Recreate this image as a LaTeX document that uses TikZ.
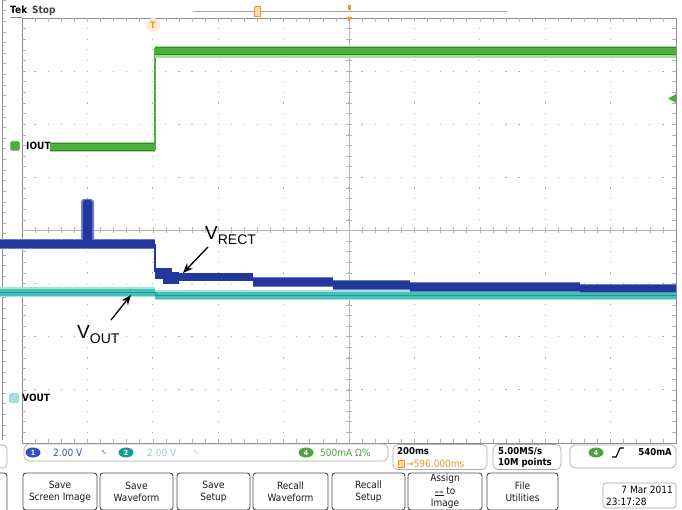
\documentclass[tikz,border=0pt]{standalone}
\usepackage{fontspec}
\setmainfont{Liberation Sans}
\newfontfamily\tekfont[FakeStretch=0.9]{DejaVu Sans}
\usetikzlibrary{arrows.meta,shapes.geometric}
\definecolor{gridc}{HTML}{B4B4B4}
\definecolor{framec}{HTML}{8C8C8C}
\definecolor{trgreen}{HTML}{4CB03C}
\definecolor{trgreendk}{HTML}{2E8626}
\definecolor{trgreenlt}{HTML}{A8DC9C}
\definecolor{trblue}{HTML}{22389C}
\definecolor{trbluelt}{HTML}{6A7CC4}
\definecolor{trcyan}{HTML}{44C2BA}
\definecolor{trcyandk}{HTML}{1F9A92}
\definecolor{trcyanlt}{HTML}{A8E0DC}
\definecolor{torange}{HTML}{EE9A2E}
\definecolor{statblue}{HTML}{2E54B4}
\definecolor{statcyan}{HTML}{94D2CE}
\definecolor{statgreen}{HTML}{4CA640}
\definecolor{btnframe}{HTML}{4A4A4A}
\begin{document}
\begin{tikzpicture}[x=1pt,y=-1pt,
  tk/.style={font=\tekfont\fontsize{10}{12}\selectfont, inner sep=0pt},
  tkb/.style={font=\tekfont\bfseries\fontsize{9.5}{12}\selectfont, inner sep=0pt},
  btn/.style={draw=btnframe, line width=0.9pt, rounded corners=3pt, fill=white,
    font=\tekfont\fontsize{10}{12}\selectfont, align=center, inner sep=0pt, text=black!90},
  statbox/.style={draw=gray!65, line width=0.7pt, rounded corners=5pt, inner sep=0pt},
  badge/.style={ellipse, inner sep=0pt, minimum width=15pt, minimum height=10pt,
    text=white, font=\tekfont\bfseries\fontsize{7}{7}\selectfont},
  tick/.style={draw=gridc, line width=0.6pt},
  annot/.style={inner sep=0pt, anchor=base west, font=\fontsize{19}{19}\selectfont},
  arr/.style={draw=black, line width=1.3pt, -{Stealth[length=10pt,width=8pt]}}
]
\useasboundingbox (0,0) rectangle (682,510);
\fill[white] (0,0) rectangle (682,510);
\begin{scope}
\clip (0,0) rectangle (682,510);
% left strip (neighbouring screen)
\draw[framec, line width=0.6pt] (2.5,0) -- (2.5,440);
\foreach \k in {0,...,41} {\draw[tick] (2.5,{\k*10.625}) -- ++(3,0);}
\draw[gray!65, line width=0.7pt, rounded corners=4pt] (-20,445) rectangle (7,468);
\draw[btnframe, line width=0.9pt, rounded corners=3pt] (-20,473) rectangle (7,520);

% graticule dots
\foreach \i in {1,...,9} {
  \pgfmathsetmacro\xx{22+65.4*\i}
  \foreach \k in {1,...,39} {\fill[gridc] (\xx-0.6,{18+\k*10.625-0.6}) rectangle ++(1.2,1.2);}
}
\foreach \j in {1,...,7} {
  \pgfmathsetmacro\yy{18+53.125*\j}
  \foreach \k in {1,...,49} {\fill[gridc] ({22+\k*13.08-0.6},\yy-0.6) rectangle ++(1.2,1.2);}
}
% centre lines with ticks
\draw[tick] (22,230.5) -- (676,230.5);
\draw[tick] (349,18) -- (349,443);
\foreach \k in {1,...,49} {\draw[tick] ({22+\k*13.08},227.5) -- ++(0,6);}
\foreach \k in {1,...,39} {\draw[tick] (346,{18+\k*10.625}) -- ++(6,0);}
% frame with ticks
\draw[framec, line width=0.7pt] (22,18) rectangle (676,443);
\draw[framec, line width=0.7pt] (10,17.5) -- (22,17.5);
\foreach \k in {1,...,49} {\draw[tick] ({22+\k*13.08},18) -- ++(0,4); \draw[tick] ({22+\k*13.08},443) -- ++(0,-4);}
\foreach \k in {1,...,39} {\draw[tick] (22,{18+\k*10.625}) -- ++(4,0); \draw[tick] (676,{18+\k*10.625}) -- ++(-4,0);}

% top record bar and markers
\draw[gray!70, line width=0.8pt] (193,11) -- (507,11);
\draw[torange, fill=torange!35, line width=0.6pt] (254,6) rectangle (260,16);
\fill[torange] (348,5) rectangle (351,10);
\fill[torange] (346,17) -- (352,17) -- (349,22) -- cycle;
\fill[torange!20] (153,25) circle (7);
\node[font=\tekfont\bfseries\fontsize{9}{9}\selectfont, text=torange, inner sep=0pt] (trig) at (153,25) {T};
\fill[trgreen] (676,94) -- (668,98.5) -- (676,103) -- cycle;

% Tek Stop
\node[font=\tekfont\bfseries\fontsize{10}{10}\selectfont, inner sep=0pt, anchor=base west] (tek) at (10,14) {Tek};
\node[font=\tekfont\bfseries\fontsize{10}{10}\selectfont, inner sep=0pt, anchor=base west, text=black!75] (stop) at (32,14) {Stop};

% channel labels
\node[draw=trgreendk, fill=trgreen, rounded corners=2pt, minimum width=9pt, minimum height=9pt, inner sep=0pt] (b4ch) at (15,146) {};
\node[font=\tekfont\bfseries\fontsize{10}{10}\selectfont, inner sep=0pt, anchor=west] (ioutl) at (26,146) {IOUT};
\node[draw=trcyan, fill=trcyanlt, rounded corners=2pt, minimum width=9pt, minimum height=9pt, inner sep=0pt] (b2ch) at (14,398) {};
\node[font=\tekfont\bfseries\fontsize{10}{10}\selectfont, inner sep=0pt, anchor=west] (voutl) at (22,398) {VOUT};

% --- cyan VOUT trace
\fill[trcyanlt] (0,287.5) rectangle (155,297.5);
\fill[trcyanlt] (155,290.5) rectangle (676,300.5);
\fill[trcyan] (0,289) rectangle (155,296);
\fill[trcyan] (155,292.5) rectangle (676,299);
\draw[trcyandk, line width=0.6pt] (0,292.5) -- (155,292.5) -- (155,295.5) -- (676,295.5);

% --- blue VRECT trace
\fill[trbluelt] (0,239) rectangle (155,249);
\fill[trbluelt, rounded corners=3pt] (81,199) rectangle (94,244);
\fill[trblue] (0,240) rectangle (155,248);
\fill[trblue, rounded corners=2.5pt] (83,200) rectangle (92,244);
\draw[trblue, line width=1.2pt] (155,244) -- (155,272);
\fill[trblue] (155,268) rectangle (172,279);
\fill[trblue] (163,272) rectangle (179,284);
\fill[trblue] (172,273) rectangle (253,281);
\fill[trbluelt] (253,277) rectangle (333,287);
\fill[trblue] (253,278) rectangle (333,286);
\fill[trbluelt] (333,280) rectangle (410,290);
\fill[trblue] (333,281) rectangle (410,289);
\fill[trbluelt] (410,282) rectangle (580,292);
\fill[trblue] (410,283) rectangle (580,291);
\fill[trbluelt] (580,284) rectangle (676,293);
\fill[trblue] (580,285) rectangle (676,292);

% --- green IOUT trace
\fill[trgreenlt] (50,142) rectangle (155,152);
\fill[trgreen] (50,143) rectangle (155,150);
\draw[trgreendk, line width=0.6pt] (50,143) -- (155,143) (50,150) -- (155,150);
\draw[trgreen, line width=1.4pt] (155,150) -- (155,48);
\fill[trgreenlt] (155,46) rectangle (676,58);
\fill[trgreen] (155,47) rectangle (676,54);
\draw[trgreendk, line width=0.6pt] (155,47) -- (676,47) (155,54) -- (676,54);
\end{scope}

% annotations
\node[annot] (vrect) at (205,240) {V\raisebox{-5pt}{\fontsize{14}{14}\selectfont RECT}};
\coordinate (vrtail) at (208,247);
\coordinate (vrtip) at (183,273);
\draw[arr] (vrtail) -- (vrtip);
\node[annot] (vout) at (77,338) {V\raisebox{-5pt}{\fontsize{14}{14}\selectfont OUT}};
\coordinate (votail) at (111,320);
\coordinate (votip) at (131,295);
\draw[arr] (votail) -- (votip);

% status bar
\node[statbox, minimum width=364pt, minimum height=17pt] (sb1) at (206,452.5) {};
\node[badge, fill=statblue] (c1) at (33,452.5) {1};
\node[tk, anchor=west, text=statblue] (c1v) at (53,452.5) {2.00 V};
\node[tk, anchor=west, text=statblue, font=\tekfont\fontsize{7}{7}\selectfont] (c1bw) at (101,452.5) {∿};
\node[badge, fill=trcyandk] (c2) at (126,452.5) {2};
\node[tk, anchor=west, text=statcyan] (c2v) at (147,452.5) {2.00 V};
\node[tk, anchor=west, text=statcyan, font=\tekfont\fontsize{7}{7}\selectfont] (c2bw) at (193,452.5) {∿};
\node[badge, fill=statgreen] (c4) at (306,452.5) {4};
\node[tk, anchor=west, text=statgreen] (c4v) at (320,452.5) {500mA Ω\%};

\node[statbox, minimum width=94pt, minimum height=25pt] (sb2) at (440,457) {};
\node[tkb, anchor=west] (tdiv) at (397,451) {200ms};
\node[draw=torange, fill=torange!40, minimum width=6pt, minimum height=7pt, inner sep=0pt] (tico) at (401,463.5) {};
\node[tk, anchor=west, text=torange] (tpos) at (406,463.5) {→596.000ms};

\node[statbox, minimum width=68pt, minimum height=25pt] (sb3) at (527,457) {};
\node[tkb, anchor=west] (srate) at (498,451) {5.00MS/s};
\node[tkb, anchor=west] (rlen) at (498,463) {10M points};

\node[statbox, minimum width=106pt, minimum height=23pt] (sb4) at (623,456.5) {};
\node[badge, fill=statgreen] (t4) at (596,452.5) {4};
\draw[black, line width=1.1pt] (612,457) -- (616,457) -- (620,448) -- (624,448);
\node[tkb, anchor=east] (tlev) at (672,452.5) {540mA};

% buttons
\node[btn, minimum width=74pt, minimum height=37pt] (bt1) at (60,491.5) {Save\\Screen Image};
\node[btn, minimum width=73pt, minimum height=37pt] (bt2) at (136.5,491.5) {Save\\Waveform};
\node[btn, minimum width=73pt, minimum height=37pt] (bt3) at (213.5,491.5) {Save\\Setup};
\node[btn, minimum width=75pt, minimum height=37pt] (bt4) at (290.5,491.5) {Recall\\Waveform};
\node[btn, minimum width=73pt, minimum height=37pt] (bt5) at (368.5,491.5) {Recall\\Setup};
\node[btn, minimum width=74pt, minimum height=37pt, font=\tekfont\fontsize{10}{12.5}\selectfont] (bt6) at (445,491.5) {Assign\\{\fontsize{6}{6}\selectfont\underline{≈≈}} to\\Image};
\node[btn, minimum width=71pt, minimum height=37pt] (bt7) at (522.5,491.5) {File\\Utilities};
\node[btn, draw=gray!70, line width=0.7pt, minimum width=73pt, minimum height=25pt] (datebox) at (639.5,495.5) {};
\node[tk, anchor=east] (date1) at (673,490) {7 Mar 2011};
\node[tk, anchor=west] (date2) at (606,502) {23:17:28};
\end{tikzpicture}
\end{document}
